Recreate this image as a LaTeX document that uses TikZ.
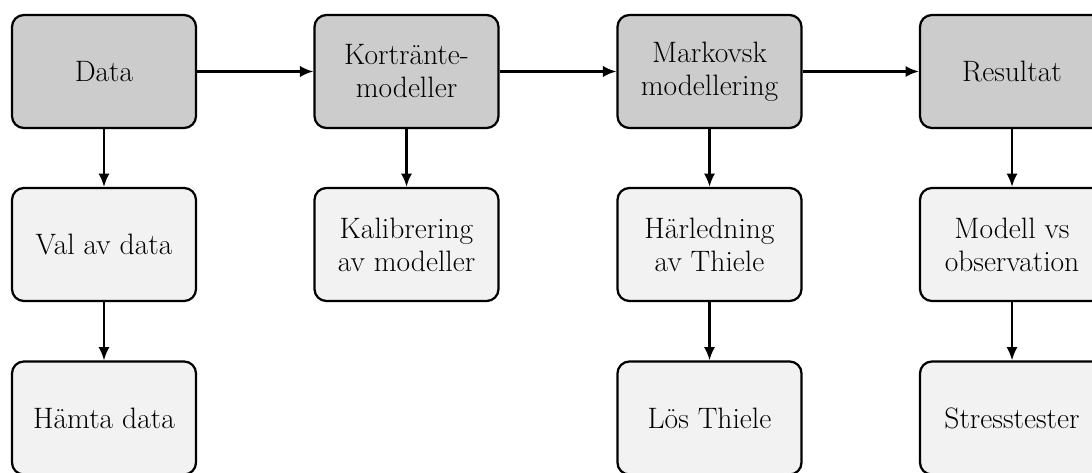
\documentclass[tikz,border=0pt]{standalone}
\usetikzlibrary{arrows.meta}
\begin{document}
\begin{tikzpicture}[x=0.025cm,y=-0.025cm,
  box/.style={draw=black, line width=1.6pt, rounded corners=8.5pt, minimum width=4.6cm, minimum height=2.825cm, align=center, inner sep=0pt, font=\fontsize{21}{23.5}\selectfont},
  topbox/.style={box, fill=black!20},
  subbox/.style={box, fill=black!5},
  arr/.style={line width=1.6pt, -{Latex[length=9.5pt,width=8pt]}}]
\useasboundingbox (0,0) rectangle (1092,473);
\clip (0,0) rectangle (1092,473);
\node[topbox] (data) at (104,71.5) {Data};
\node[topbox] (kort) at (406.5,71.5) {Kortränte-\\modeller};
\node[topbox] (mark) at (709.5,71.5) {Markovsk\\modellering};
\node[topbox] (res) at (1012,71.5) {Resultat};
\node[subbox] (val) at (104,244.5) {Val av data};
\node[subbox] (kal) at (406.5,244.5) {Kalibrering\\av modeller};
\node[subbox] (har) at (709.5,244.5) {Härledning\\av Thiele};
\node[subbox] (mod) at (1012,244.5) {Modell vs\\observation};
\node[subbox] (ham) at (104,418) {Hämta data};
\node[subbox] (los) at (709.5,418) {Lös Thiele};
\node[subbox] (str) at (1012,418) {Stresstester};
\draw[arr] (data) -- (kort);
\draw[arr] (kort) -- (mark);
\draw[arr] (mark) -- (res);
\draw[arr] (data) -- (val);
\draw[arr] (val) -- (ham);
\draw[arr] (kort) -- (kal);
\draw[arr] (mark) -- (har);
\draw[arr] (har) -- (los);
\draw[arr] (res) -- (mod);
\draw[arr] (mod) -- (str);
\end{tikzpicture}
\end{document}
